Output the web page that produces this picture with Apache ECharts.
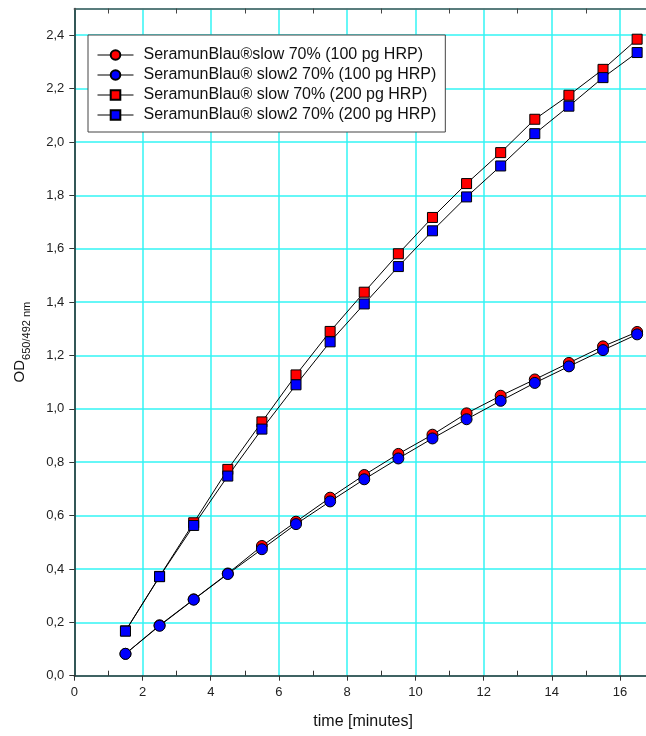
<!DOCTYPE html>
<html>
<head>
<meta charset="utf-8">
<script src="https://cdn.jsdelivr.net/npm/echarts@6/dist/echarts.min.js"></script>
<style>
  html, body { margin: 0; padding: 0; background: #fff; }
  #chart { width: 646px; height: 736px; }
</style>
</head>
<body>
<div id="chart"></div>
<script>
// Measurement times (minutes)
const times = [1.5, 2.5, 3.5, 4.5, 5.5, 6.5, 7.5, 8.5, 9.5, 10.5, 11.5, 12.5, 13.5, 14.5, 15.5, 16.5];

// OD 650/492 nm readings per substrate / enzyme amount
const slow100  = [0.082, 0.189, 0.286, 0.383, 0.486, 0.577, 0.667, 0.752, 0.831, 0.903, 0.983, 1.049, 1.110, 1.172, 1.234, 1.288];
const slow2100 = [0.082, 0.187, 0.285, 0.381, 0.474, 0.568, 0.653, 0.736, 0.814, 0.889, 0.961, 1.030, 1.097, 1.159, 1.220, 1.279];
const slow200  = [0.168, 0.372, 0.573, 0.773, 0.951, 1.127, 1.290, 1.437, 1.581, 1.717, 1.844, 1.960, 2.085, 2.175, 2.272, 2.385];
const slow2200 = [0.167, 0.371, 0.563, 0.748, 0.924, 1.090, 1.251, 1.393, 1.533, 1.667, 1.794, 1.910, 2.031, 2.134, 2.241, 2.335];

const seriesNames = [
  'SeramunBlau\u00AEslow 70% (100 pg HRP)',
  'SeramunBlau\u00AE slow2 70% (100 pg HRP)',
  'SeramunBlau\u00AE slow 70% (200 pg HRP)',
  'SeramunBlau\u00AE slow2 70% (200 pg HRP)'
];

// Axis ticks
const xMajorTicks = [0, 2, 4, 6, 8, 10, 12, 14, 16];
const xMinorTicks = [1, 3, 5, 7, 9, 11, 13, 15];
const X_MAX = 16.76; // visible end of the time axis

const FONT = "'Liberation Sans', Arial, sans-serif";
const pair = (ys) => times.map((t, i) => [t, ys[i]]);

const chart = echarts.init(document.getElementById('chart'), null, { renderer: 'canvas' });

function makeSeries(name, ys, symbol, color, size) {
  return {
    name: name,
    type: 'line',
    data: pair(ys),
    symbol: symbol,
    symbolSize: size,
    showAllSymbol: true,
    lineStyle: { color: '#000', width: 1 },
    itemStyle: { color: color, borderColor: '#000', borderWidth: 1 },
    emphasis: { disabled: true },
    animation: false,
    z: 3
  };
}

const option = {
  animation: false,
  backgroundColor: '#fff',
  grid: { left: 74.3, top: 8.5, right: 0, bottom: 60.3, containLabel: false },
  legend: {
    orient: 'vertical',
    left: 88,
    top: 35,
    padding: [12, 9, 9, 9],
    itemWidth: 36,
    itemHeight: 12,
    itemGap: 4,
    backgroundColor: '#fff',
    borderColor: '#444',
    borderWidth: 1,
    selectedMode: false,
    lineStyle: { width: 1, color: '#000' },
    textStyle: { fontFamily: FONT, fontSize: 16, lineHeight: 16, color: '#111', padding: [0, 0, 0, 5] },
    data: seriesNames
  },
  xAxis: [
    {
      type: 'value', min: 0, max: X_MAX, interval: 2,
      position: 'bottom',
      name: 'time [minutes]',
      nameLocation: 'middle',
      nameGap: 38,
      nameTextStyle: { fontFamily: FONT, fontSize: 16, color: '#111', padding: [0, 0, 0, 6] },
      axisLine: { show: true, onZero: false, lineStyle: { color: '#333', width: 1.5 } },
      axisTick: { show: true, inside: false, length: 5, customValues: xMajorTicks, lineStyle: { color: '#333', width: 1 } },
      axisLabel: { fontFamily: FONT, fontSize: 13, color: '#222', margin: 10, customValues: xMajorTicks },
      splitLine: { show: true, lineStyle: { color: '#33f5f5', width: 1.5 } }
    },
    {
      // inward minor ticks on the bottom edge
      type: 'value', min: 0, max: X_MAX, interval: 1,
      position: 'bottom',
      axisLine: { show: false, onZero: false },
      axisTick: { show: true, inside: true, length: 5, customValues: xMinorTicks, lineStyle: { color: '#333', width: 1 } },
      axisLabel: { show: false },
      splitLine: { show: false }
    },
    {
      // top frame with inward minor ticks
      type: 'value', min: 0, max: X_MAX, interval: 1,
      position: 'top',
      axisLine: { show: true, onZero: false, lineStyle: { color: '#555', width: 1.5 } },
      axisTick: { show: true, inside: true, length: 5, customValues: xMinorTicks, lineStyle: { color: '#444', width: 1 } },
      axisLabel: { show: false },
      splitLine: { show: false }
    }
  ],
  yAxis: {
    type: 'value', min: 0, max: 2.5, interval: 0.2,
    name: '{a|OD}{b|650/492 nm}',
    nameLocation: 'middle',
    nameRotate: 90,
    nameGap: 47,
    nameTextStyle: {
      rich: {
        a: { fontFamily: FONT, fontSize: 15, color: '#111', verticalAlign: 'bottom' },
        b: { fontFamily: FONT, fontSize: 11, color: '#111', verticalAlign: 'bottom', padding: [0, 0, -5, 0] }
      }
    },
    axisLine: { show: true, onZero: false, lineStyle: { color: '#222', width: 1.5 } },
    axisTick: { show: true, inside: false, length: 5, lineStyle: { color: '#333', width: 1 } },
    axisLabel: {
      fontFamily: FONT, fontSize: 13, color: '#222', margin: 10, showMaxLabel: false,
      formatter: (v) => v.toFixed(1).replace('.', ',')
    },
    splitLine: { show: true, lineStyle: { color: '#33f5f5', width: 1.5 } }
  },
  series: [
    makeSeries(seriesNames[0], slow100, 'circle', '#ff0000', 11),
    makeSeries(seriesNames[1], slow2100, 'circle', '#0000ff', 11),
    makeSeries(seriesNames[2], slow200, 'rect', '#ff0000', 10),
    makeSeries(seriesNames[3], slow2200, 'rect', '#0000ff', 10)
  ]
};

chart.setOption(option);
</script>
</body>
</html>
